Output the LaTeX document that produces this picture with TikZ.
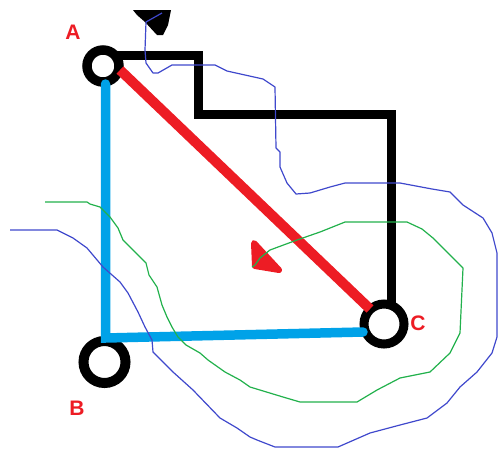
\documentclass[tikz,border=0pt]{standalone}
\usepackage{fontspec}
\setmainfont{Liberation Sans}
\definecolor{pred}{HTML}{ED1C24}
\definecolor{pblue}{HTML}{00A2E8}
\definecolor{tblue}{HTML}{3F48CC}
\definecolor{tgreen}{HTML}{22B14C}
\tikzset{
  ring/.style={circle,draw=black,fill=white,line width=#1,inner sep=0pt},
  lab/.style={text=pred,font=\bfseries\fontsize{21}{21}\selectfont,inner sep=0pt},
  thickblack/.style={draw=black,line width=9pt,line join=miter},
  thickblue/.style={draw=pblue,line width=9.5pt,line cap=round},
  thickred/.style={draw=pred,line width=10pt,line cap=butt},
  thinblue/.style={draw=tblue,line width=1.2pt,line join=round},
  thingreen/.style={draw=tgreen,line width=1.2pt,line join=round}
}
\begin{document}
\begin{tikzpicture}[x=1pt,y=-1pt]
\useasboundingbox (0,0) rectangle (498,448);
% named points
\coordinate (a0) at (103,55);
\coordinate (a1) at (198,55);
\coordinate (a2) at (198,114);
\coordinate (a3) at (391,114);
\coordinate (ac) at (391,305);
\coordinate (b1) at (105.5,84);
\coordinate (b2) at (105.5,338);
\coordinate (b3) at (363,332);
\coordinate (r1) at (120,70);
\coordinate (r2) at (370,309);
% black route, behind the rings
\draw[thickblack] (a0) -- (a1) -- (a2) -- (a3) -- (ac);
% rings
\node[ring=9.5pt,minimum size=32pt] (A) at (103,66) {};
\node[ring=10pt,minimum size=42pt] (B) at (104.5,362) {};
\node[ring=9pt,minimum size=40pt] (C) at (384,324) {};
% labels
\node[lab] (la) at (73,32) {A};
\node[lab] (lb) at (77,408) {B};
\node[lab] (lc) at (418,323) {C};
% coloured connectors
\draw[thickblue] (b1) -- (b2) -- (b3);
\draw[thickred] (r1) -- (r2);
% triangles
\fill[black] (133,10) -- (171,10) -- (168,25) -- (163,35) -- (157,35) -- (145,22) -- (137,15) -- cycle;
\fill[pred,draw=pred,line width=6pt,line join=round] (254,243) -- (255,266) -- (279,270) -- cycle;
% thin curves
\draw[thingreen] (45,202) -- (87,202) -- (90,204) -- (100,207) -- (110,217) -- (118,228) -- (123,240) -- (135,252) -- (146,263) -- (149,275) -- (157,287) -- (162,305) -- (167,317) -- (172,327) -- (178,337) -- (186,345) -- (200,353) -- (208,360) -- (225,372) -- (240,380) -- (250,387) -- (283,397) -- (300,402) -- (357,402) -- (377,390) -- (400,378) -- (430,372) -- (450,353) -- (460,333) -- (463,268) -- (433,238) -- (422,229) -- (407,222) -- (345,222) -- (320,232) -- (297,240) -- (270,250) -- (260,258) -- (255,265) -- (252,267);
\draw[thinblue] (162,13) -- (146,22) -- (145,50) -- (146,63) -- (153,73) -- (158,73) -- (172,65) -- (215,65) -- (227,71) -- (263,79) -- (275,87) -- (276,148) -- (280,152) -- (280,167) -- (287,183) -- (296,194) -- (310,193) -- (330,187) -- (345,183) -- (400,183) -- (432,189) -- (450,192) -- (463,205) -- (483,218) -- (492,233) -- (497,253) -- (497,337) -- (492,353) -- (477,372) -- (460,387) -- (447,403) -- (427,418) -- (400,425) -- (370,433) -- (338,447) -- (275,447) -- (257,440) -- (250,437) -- (237,428) -- (220,418) -- (193,390) -- (173,372) -- (153,352) -- (152,340) -- (145,327) -- (138,312) -- (128,293) -- (120,282) -- (103,267) -- (87,248) -- (73,238) -- (57,230) -- (10,230);
\end{tikzpicture}
\end{document}
